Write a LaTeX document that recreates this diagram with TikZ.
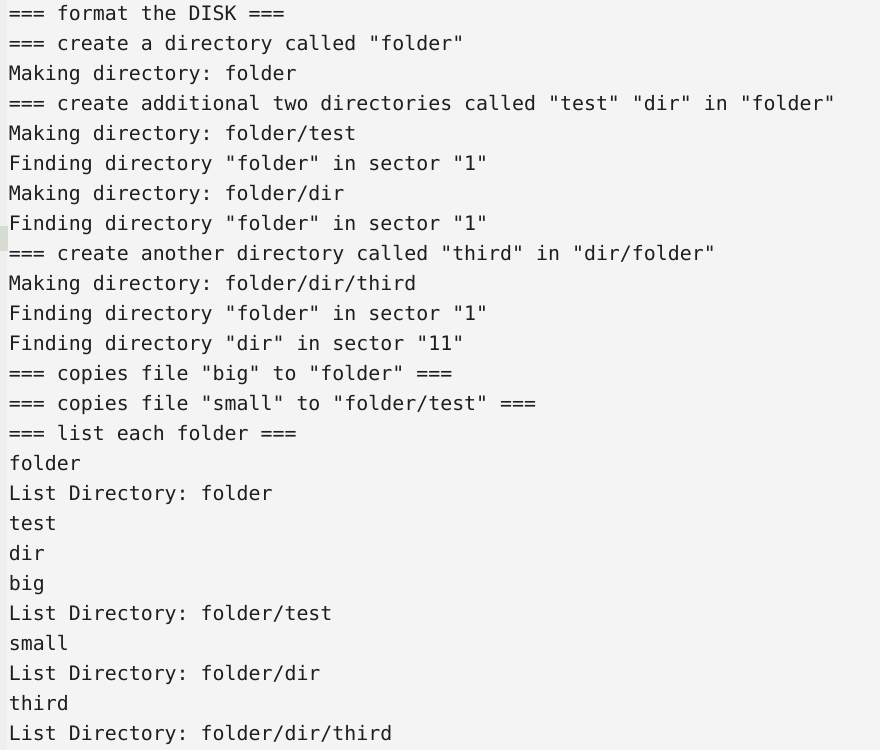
\documentclass[tikz,border=0pt]{standalone}
\usepackage{fontspec}
\setmonofont{DejaVu Sans Mono}
\definecolor{bgc}{HTML}{F4F4F4}
\definecolor{stripc}{HTML}{EFEFEF}
\definecolor{barc}{HTML}{D6DDD0}
\definecolor{inkc}{HTML}{1E1E1E}
\begin{document}
\begin{tikzpicture}[x=1pt,y=-1pt,
  ln/.style={anchor=base west,inner sep=0pt,outer sep=0pt,text=inkc,font=\ttfamily\fontsize{19.9}{24}\selectfont}]
\fill[bgc] (0,0) rectangle (880,750);
\useasboundingbox (0,0) rectangle (880,750);
\fill[stripc] (0,0) rectangle (7,750);
\fill[barc] (0,226) rectangle (8,251);
\node[ln] (l1) at (9,20) {=== format the DISK ===};
\node[ln] (l2) at (9,50) {=== create a directory called "folder"};
\node[ln] (l3) at (9,80) {Making directory: folder};
\node[ln] (l4) at (9,110) {=== create additional two directories called "test" "dir" in "folder"};
\node[ln] (l5) at (9,140) {Making directory: folder/test};
\node[ln] (l6) at (9,170) {Finding directory "folder" in sector "1"};
\node[ln] (l7) at (9,200) {Making directory: folder/dir};
\node[ln] (l8) at (9,230) {Finding directory "folder" in sector "1"};
\node[ln] (l9) at (9,260) {=== create another directory called "third" in "dir/folder"};
\node[ln] (l10) at (9,290) {Making directory: folder/dir/third};
\node[ln] (l11) at (9,320) {Finding directory "folder" in sector "1"};
\node[ln] (l12) at (9,350) {Finding directory "dir" in sector "11"};
\node[ln] (l13) at (9,380) {=== copies file "big" to "folder" ===};
\node[ln] (l14) at (9,410) {=== copies file "small" to "folder/test" ===};
\node[ln] (l15) at (9,440) {=== list each folder ===};
\node[ln] (l16) at (9,470) {folder};
\node[ln] (l17) at (9,500) {List Directory: folder};
\node[ln] (l18) at (9,530) {test};
\node[ln] (l19) at (9,560) {dir};
\node[ln] (l20) at (9,590) {big};
\node[ln] (l21) at (9,620) {List Directory: folder/test};
\node[ln] (l22) at (9,650) {small};
\node[ln] (l23) at (9,680) {List Directory: folder/dir};
\node[ln] (l24) at (9,710) {third};
\node[ln] (l25) at (9,740) {List Directory: folder/dir/third};
\end{tikzpicture}
\end{document}
